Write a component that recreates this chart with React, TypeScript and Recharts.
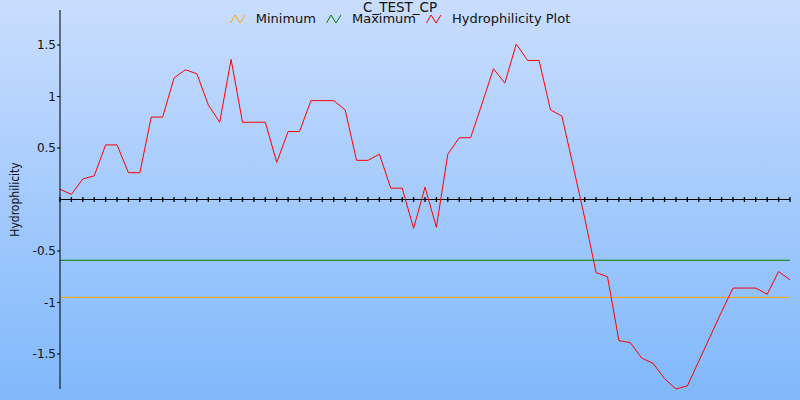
import { LineChart, Line, XAxis, YAxis, ReferenceLine, ReferenceDot } from "recharts";

const title = "C_TEST_CP";
const yLabel = "Hydrophilicity";

// hydrophilicity per residue
const hydrophilicity = [
  0.1, 0.05, 0.2, 0.23, 0.53, 0.53, 0.26, 0.26, 0.8, 0.8,
  1.18, 1.26, 1.22, 0.92, 0.75, 1.36, 0.75, 0.75, 0.75, 0.36,
  0.66, 0.66, 0.96, 0.96, 0.96, 0.87, 0.38, 0.38, 0.44, 0.11,
  0.11, -0.28, 0.12, -0.27, 0.44, 0.6, 0.6, 0.93, 1.27, 1.13,
  1.51, 1.35, 1.35, 0.87, 0.81, 0.32, -0.18, -0.71, -0.75, -1.37,
  -1.39, -1.54, -1.59, -1.74, -1.84, -1.81, -1.57, -1.33, -1.09, -0.86,
  -0.86, -0.86, -0.92, -0.7, -0.78,
];
const positions = hydrophilicity.map((_, i) => i + 1);

const minimum = -0.95;
const maximum = -0.59;
const yTicks = [-1.5, -1, -0.5, 0.5, 1, 1.5];

const legendItems = [
  { name: "Minimum", color: "#ffa500" },
  { name: "Maximum", color: "#008000" },
  { name: "Hydrophilicity Plot", color: "#ff0000" },
];

const font = "'DejaVu Sans', sans-serif";
const labelFont = "'DejaVu Sans Condensed', 'DejaVu Sans', sans-serif";

const rows = positions.map((pos, i) => ({ pos, value: hydrophilicity[i] }));

const ZeroTick = (props: any) => (
  <line x1={props.cx} x2={props.cx} y1={props.cy - 2.5} y2={props.cy + 2.5} stroke="#000" strokeWidth={1.3} />
);

function LegendIcon({ color }: { color: string }) {
  return (
    <svg width={16} height={10} style={{ display: "block" }}>
      <path d="M0.5,9 L5,1 L10,9 L15,1" fill="none" stroke={color} strokeWidth={1} />
    </svg>
  );
}

export default function App() {
  return (
    <div
      style={{
        position: "absolute",
        left: 0,
        top: 0,
        width: 800,
        height: 400,
        overflow: "hidden",
        background: "linear-gradient(#c9ddfe, #80b8fb)",
        fontFamily: font,
      }}
    >
      <LineChart width={800} height={400} data={rows} margin={{ top: 10, right: 10, bottom: 11, left: 0 }}>
        <XAxis dataKey="pos" type="category" hide />
        <YAxis
          width={60}
          domain={[-1.84, 1.84]}
          ticks={yTicks}
          interval={0}
          axisLine={{ stroke: "#000" }}
          tickLine={{ stroke: "#000" }}
          tickSize={3}
          tickMargin={1}
          tick={{ fill: "#111", fontSize: 12, fontFamily: font }}
          label={{
            value: yLabel,
            angle: -90,
            position: "insideLeft",
            offset: 15,
            style: { textAnchor: "middle", fill: "#111", fontSize: 12, fontFamily: labelFont },
          }}
        />
        <ReferenceLine y={minimum} stroke={legendItems[0].color} strokeWidth={1} />
        <ReferenceLine y={maximum} stroke={legendItems[1].color} strokeWidth={1} />
        <ReferenceLine y={0} stroke="#000" strokeWidth={1} />
        {positions.map((p) => (
          <ReferenceDot key={p} x={p} y={0} r={0} shape={ZeroTick} />
        ))}
        <Line
          type="linear"
          dataKey="value"
          stroke={legendItems[2].color}
          strokeWidth={1}
          dot={false}
          isAnimationActive={false}
        />
      </LineChart>
      <div
        style={{
          position: "absolute",
          top: 0.5,
          left: 0,
          width: 800,
          textAlign: "center",
          fontSize: 13.5,
          lineHeight: "12px",
          color: "#111",
        }}
      >
        {title}
      </div>
      <div
        style={{
          position: "absolute",
          top: 12,
          left: 0,
          width: 800,
          display: "flex",
          justifyContent: "center",
          alignItems: "center",
          fontSize: 13,
          lineHeight: "14px",
          color: "#111",
        }}
      >
        {legendItems.map((item, i) => (
          <div
            key={item.name}
            style={{ display: "flex", alignItems: "center", marginLeft: i === 0 ? 0 : 10 }}
          >
            <LegendIcon color={item.color} />
            <span style={{ marginLeft: 10 }}>{item.name}</span>
          </div>
        ))}
      </div>
    </div>
  );
}
